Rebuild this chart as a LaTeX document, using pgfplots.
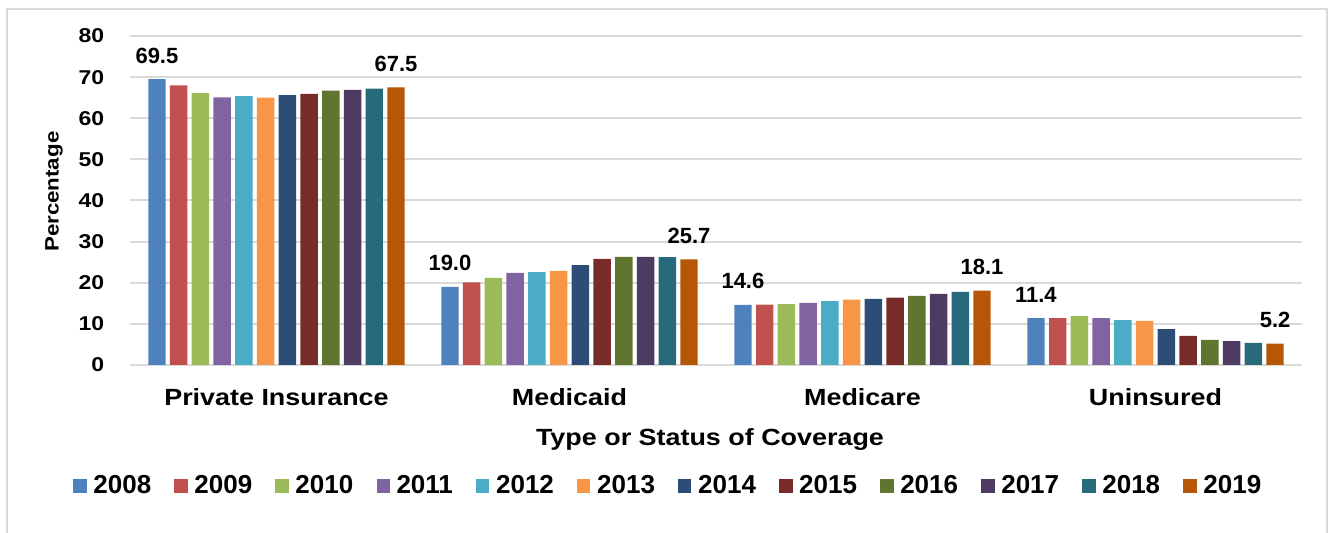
\documentclass[border=0pt]{standalone}
\usepackage{fontspec}
\setmainfont{Liberation Sans}
\newfontfamily\widefont{Liberation Sans}[FakeStretch=1.15]
\usepackage{pgfplots}
\usepackage{pgfplotstable}
\pgfplotsset{compat=1.18}

\definecolor{gridgray}{HTML}{D9D9D9}
\definecolor{c2008}{HTML}{4F81BD}
\definecolor{c2009}{HTML}{C0504D}
\definecolor{c2010}{HTML}{9BBB59}
\definecolor{c2011}{HTML}{8064A2}
\definecolor{c2012}{HTML}{4BACC6}
\definecolor{c2013}{HTML}{F79646}
\definecolor{c2014}{HTML}{2C4D75}
\definecolor{c2015}{HTML}{772C2A}
\definecolor{c2016}{HTML}{5F7530}
\definecolor{c2017}{HTML}{4D3B62}
\definecolor{c2018}{HTML}{276A7C}
\definecolor{c2019}{HTML}{B65708}

\newcommand\ticksfont{\widefont\bfseries\fontsize{10}{12}\selectfont}
\newcommand\ylabfont{\widefont\bfseries\fontsize{9.7}{11}\selectfont}
\newcommand\catfont{\widefont\bfseries\fontsize{11.7}{14}\selectfont}
\newcommand\legfont{\bfseries\fontsize{13}{15}\selectfont}
\newcommand\datafont{\bfseries\fontsize{11}{13}\selectfont}

% categories: 0 Private Insurance, 1 Medicaid, 2 Medicare, 3 Uninsured
\pgfplotstableread{
cat  y2008 y2009 y2010 y2011 y2012 y2013 y2014 y2015 y2016 y2017 y2018 y2019
0    69.5  68.0  66.1  65.1  65.4  65.0  65.6  65.9  66.7  66.9  67.2  67.5
1    19.0  20.1  21.2  22.4  22.6  22.9  24.3  25.8  26.3  26.3  26.2  25.7
2    14.6  14.7  14.8  15.1  15.5  15.9  16.1  16.4  16.8  17.3  17.8  18.1
3    11.4  11.4  11.9  11.4  10.9  10.7   8.7   7.1   6.1   5.8   5.4   5.2
}\datatable

\begin{document}
\begin{tikzpicture}
\begin{axis}[
  at={(65pt,84pt)}, anchor=south west,
  scale only axis, width=586pt, height=164.5pt,
  ybar=2.2pt, bar width=8.67pt,
  xmin=-0.5, xmax=3.5, ymin=0, ymax=80,
  enlargelimits=false,
  xtick={0,1,2,3},
  xticklabels={Private Insurance,Medicaid,Medicare,Uninsured},
  ytick={0,10,...,80},
  ymajorgrids, grid style={line width=1pt, color=gridgray},
  axis line style={draw=none},
  tick style={draw=none}, major tick length=0pt,
  /pgf/number format/assume math mode=true,
  yticklabel style={font=\ticksfont, anchor=east, inner sep=0pt, xshift=-12.75pt},
  xticklabel style={font=\catfont, anchor=north, inner sep=0pt, yshift=-11.5pt},
  xlabel={Type or Status of Coverage},
  xlabel style={font=\catfont, at={(axis description cs:0.5,0)}, anchor=north, inner sep=0pt, yshift=-31.35pt, xshift=-3pt},
  ylabel={Percentage},
  ylabel style={font=\ylabfont, at={([xshift=-38pt]axis description cs:0,0.5267)}, anchor=center, inner sep=0pt},
  legend columns=12,
  legend cell align=left,
  legend image code/.code={\path[#1,draw=none] (0pt,-3.33pt) rectangle (6.65pt,3.33pt);},
  legend style={draw=none, fill=none, inner sep=0pt, outer sep=0pt,
    at={(axis description cs:-0.0483,-0.3678)}, anchor=west,
    font=\legfont,
    nodes={inner sep=0pt},
    /tikz/every odd column/.append style={column sep=3.35pt},
    /tikz/every even column/.append style={column sep=11.6pt}},
  every node near coord/.append style={font=\datafont, anchor=base, inner sep=0pt, yshift=8pt, color=black},
]
\addplot[fill=c2008, draw=none, nodes near coords={\pgfmathprintnumber[fixed,fixed zerofill,precision=1]{\pgfplotspointmeta}}] table[x=cat,y=y2008]{\datatable};
\addplot[fill=c2009, draw=none] table[x=cat,y=y2009]{\datatable};
\addplot[fill=c2010, draw=none] table[x=cat,y=y2010]{\datatable};
\addplot[fill=c2011, draw=none] table[x=cat,y=y2011]{\datatable};
\addplot[fill=c2012, draw=none] table[x=cat,y=y2012]{\datatable};
\addplot[fill=c2013, draw=none] table[x=cat,y=y2013]{\datatable};
\addplot[fill=c2014, draw=none] table[x=cat,y=y2014]{\datatable};
\addplot[fill=c2015, draw=none] table[x=cat,y=y2015]{\datatable};
\addplot[fill=c2016, draw=none] table[x=cat,y=y2016]{\datatable};
\addplot[fill=c2017, draw=none] table[x=cat,y=y2017]{\datatable};
\addplot[fill=c2018, draw=none] table[x=cat,y=y2018]{\datatable};
\addplot[fill=c2019, draw=none, nodes near coords={\pgfmathprintnumber[fixed,fixed zerofill,precision=1]{\pgfplotspointmeta}}] table[x=cat,y=y2019]{\datatable};
\legend{2008,2009,2010,2011,2012,2013,2014,2015,2016,2017,2018,2019}
\end{axis}
\draw[gridgray, line width=0.75pt] (3.5pt,-20pt) rectangle (663.5pt,262pt);
\pgfresetboundingbox
\useasboundingbox (0,0) rectangle (665pt,266.5pt);
\end{tikzpicture}
\end{document}
